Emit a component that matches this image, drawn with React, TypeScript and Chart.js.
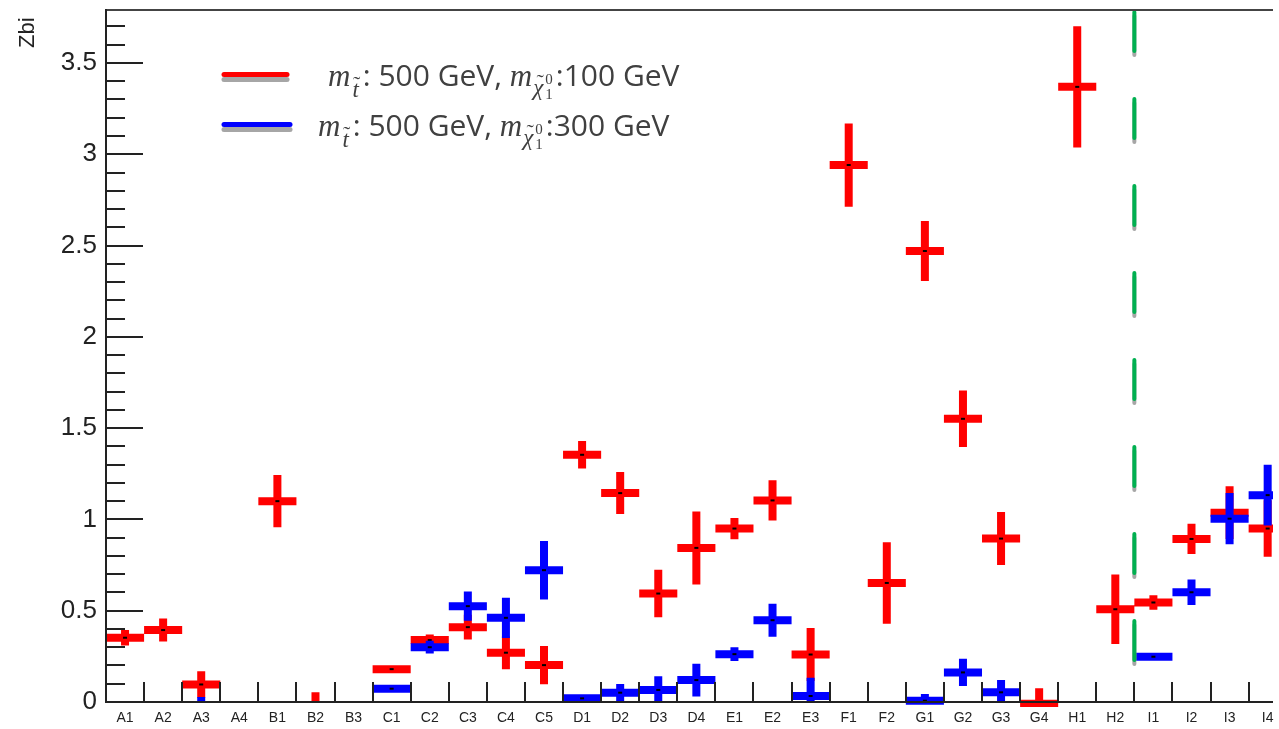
import React, { useEffect, useRef } from "react";
import { Chart, registerables } from "chart.js";

Chart.register(...registerables);

// ---------------- data ----------------
const CATEGORIES = [
  "A1", "A2", "A3", "A4", "B1", "B2", "B3", "C1", "C2", "C3", "C4", "C5",
  "D1", "D2", "D3", "D4", "E1", "E2", "E3", "F1", "F2", "G1", "G2", "G3",
  "G4", "H1", "H2", "I1", "I2", "I3", "I4",
];

const RED_VALUES = [
  0.352, 0.394, 0.096, null, 1.1, -0.07, null, 0.18, 0.339, 0.41, 0.27, 0.202,
  1.354, 1.144, 0.594, 0.844, 0.95, 1.104, 0.26, 2.941, 0.652, 2.47, 1.551, 0.895,
  -0.01, 3.369, 0.508, 0.545, 0.893, 1.037, 0.95,
];
const RED_ERRORS = [
  0.042, 0.063, 0.073, null, 0.143, 0.124, null, 0.012, 0.031, 0.068, 0.09, 0.105,
  0.075, 0.115, 0.13, 0.2, 0.058, 0.11, 0.145, 0.228, 0.223, 0.164, 0.155, 0.145,
  0.085, 0.332, 0.19, 0.04, 0.083, 0.144, 0.155,
];

const BLUE_VALUES = [
  null, null, -0.05, null, null, null, null, 0.073, 0.3, 0.525, 0.461, 0.722,
  0.02, 0.051, 0.066, 0.12, 0.262, 0.448, 0.033, null, null, 0.007, 0.162, 0.053,
  null, null, null, 0.248, 0.601, 1.004, 1.133,
];
const BLUE_ERRORS = [
  null, null, 0.078, null, null, null, null, 0.01, 0.035, 0.08, 0.11, 0.16,
  0.015, 0.047, 0.075, 0.09, 0.038, 0.09, 0.1, null, null, 0.037, 0.075, 0.067,
  null, null, null, 0.018, 0.07, 0.14, 0.167,
];

const Y_TICKS = [0, 0.5, 1, 1.5, 2, 2.5, 3, 3.5];
const Y_MAX = 3.79;
const X_MIN = -0.5;
const X_MAX = 30.14;
const Y_TITLE = "Zbi";
const STOP_MASSES = ["500 GeV", "500 GeV"];
const LSP_MASSES = ["100 GeV", "300 GeV"];
const DIVIDER_X = 26.5;
const DIVIDER_Y_FROM = 0.222;

// ---------------- styles ----------------
const RED = "#ff0000";
const BLUE = "#0000ff";
const GREEN = "#00b050";
const SHADOW = "#a6a6a6";
const AXIS = "#222222";
const TEXT_GRAY = "#404040";
const SANS = "'Liberation Sans', Arial, sans-serif";
const SERIF = "'Liberation Serif', 'Times New Roman', serif";
const LEGEND_SANS = "'Open Sans', 'Noto Sans', sans-serif";

const toPoints = (values: (number | null)[], errors: (number | null)[]) =>
  values
    .map((v, i) => (v == null ? null : { x: i, y: v, e: errors[i] ?? 0 }))
    .filter((p) => p !== null) as { x: number; y: number; e: number }[];

const crossPlugin = {
  id: "crosses",
  beforeDatasetDraw(chart: any, args: any) {
    const ds = chart.data.datasets[args.index];
    const { ctx, chartArea } = chart;
    const xs = chart.scales.x;
    const ys = chart.scales.y;
    const w = chartArea.right - chartArea.left;
    const pts = ds.data.map((p: any) => ({
      cx: xs.getPixelForValue(p.x),
      x0: xs.getPixelForValue(p.x - 0.5),
      x1: xs.getPixelForValue(p.x + 0.5),
      cy: ys.getPixelForValue(p.y),
      y0: ys.getPixelForValue(p.y - p.e),
      y1: ys.getPixelForValue(p.y + p.e),
    }));
    ctx.save();
    ctx.strokeStyle = ds.crossColor;
    ctx.lineWidth = 8;
    ctx.lineCap = "butt";
    // vertical error bars: clipped at the frame
    ctx.save();
    ctx.beginPath();
    ctx.rect(chartArea.left, chartArea.top, w, chartArea.bottom - chartArea.top);
    ctx.clip();
    ctx.beginPath();
    for (const p of pts) {
      ctx.moveTo(p.cx, p.y0);
      ctx.lineTo(p.cx, p.y1);
    }
    ctx.stroke();
    ctx.restore();
    // horizontal bin-width bars: may overhang the x axis slightly
    ctx.save();
    ctx.beginPath();
    ctx.rect(chartArea.left, chartArea.top, w, chartArea.bottom - chartArea.top + 5);
    ctx.clip();
    ctx.beginPath();
    for (const p of pts) {
      ctx.moveTo(p.x0, p.cy);
      ctx.lineTo(p.x1, p.cy);
    }
    ctx.stroke();
    ctx.restore();
    ctx.restore();
  },
};

const framePlugin = {
  id: "frame",
  afterDatasetsDraw(chart: any) {
    const { ctx, chartArea } = chart;
    const xs = chart.scales.x;
    const ys = chart.scales.y;
    const { left, right, top, bottom } = chartArea;
    ctx.save();

    // green dashed divider with grey shadow
    const dx = xs.getPixelForValue(DIVIDER_X);
    const dyTop = ys.getPixelForValue(Y_MAX) + 2;
    const dyBot = ys.getPixelForValue(DIVIDER_Y_FROM);
    ctx.lineCap = "round";
    ctx.lineWidth = 4;
    ctx.setLineDash([39, 48]);
    ctx.strokeStyle = SHADOW;
    ctx.beginPath();
    ctx.moveTo(dx, dyTop + 4);
    ctx.lineTo(dx, dyBot + 4);
    ctx.stroke();
    ctx.strokeStyle = GREEN;
    ctx.beginPath();
    ctx.moveTo(dx, dyTop);
    ctx.lineTo(dx, dyBot);
    ctx.stroke();
    ctx.setLineDash([]);
    ctx.lineCap = "butt";

    // frame lines
    ctx.lineWidth = 2;
    ctx.strokeStyle = "#444444";
    ctx.beginPath();
    ctx.moveTo(left, top);
    ctx.lineTo(right, top);
    ctx.stroke();
    ctx.strokeStyle = AXIS;
    ctx.beginPath();
    ctx.moveTo(left, top - 1);
    ctx.lineTo(left, bottom + 1);
    ctx.moveTo(left - 1, bottom);
    ctx.lineTo(right, bottom);
    ctx.stroke();

    // y ticks (major every 0.5, minor every 0.1)
    ctx.lineWidth = 2;
    const nMinor = Math.floor(Y_MAX * 10 + 1e-6);
    ctx.beginPath();
    for (let k = 1; k <= nMinor; k++) {
      const py = Math.round(ys.getPixelForValue(k / 10));
      const len = k % 5 === 0 ? 37 : 19;
      ctx.moveTo(left, py);
      ctx.lineTo(left + len, py);
    }
    // x ticks at bin edges
    for (let i = 0; i < CATEGORIES.length; i++) {
      const v = i + 0.5;
      if (v >= X_MAX) break;
      const px = Math.round(xs.getPixelForValue(v));
      ctx.moveTo(px, bottom);
      ctx.lineTo(px, bottom - 20);
    }
    ctx.stroke();
    ctx.restore();
  },
};

function drawTildeOver(ctx: any, cx: number, baseline: number, font: string) {
  ctx.save();
  ctx.font = font;
  ctx.textAlign = "center";
  ctx.fillText("\u02DC", cx, baseline);
  ctx.restore();
}

function drawLegendLabel(ctx: any, x: number, base: number, stop: string, lsp: string) {
  const mFont = `italic 31px ${SERIF}`;
  const subFont = `italic 23px ${SERIF}`;
  const tildeFont = `22px ${SERIF}`;
  const tinyFont = `15px ${SERIF}`;
  const textFont = `30px ${LEGEND_SANS}`;
  ctx.fillStyle = TEXT_GRAY;
  ctx.textAlign = "left";
  ctx.textBaseline = "alphabetic";
  let cx = x;

  // m_t~
  ctx.font = mFont;
  ctx.fillText("m", cx, base);
  cx += ctx.measureText("m").width + 1;
  ctx.font = subFont;
  const tw = ctx.measureText("t").width;
  ctx.fillText("t", cx + 1, base + 11);
  drawTildeOver(ctx, cx + tw / 2 + 2, base + 5, tildeFont);
  cx += tw + 5;

  ctx.font = textFont;
  const s1 = ": " + stop + ", ";
  ctx.fillText(s1, cx, base);
  cx += ctx.measureText(s1).width;

  // m_chi~_1^0
  ctx.font = mFont;
  ctx.fillText("m", cx, base);
  cx += ctx.measureText("m").width + 1;
  ctx.font = subFont;
  const cw = ctx.measureText("\u03C7").width;
  ctx.fillText("\u03C7", cx, base + 9);
  drawTildeOver(ctx, cx + cw / 2 + 2, base + 3, tildeFont);
  cx += cw + 2;
  ctx.font = tinyFont;
  ctx.fillText("0", cx, base - 2);
  ctx.fillText("1", cx, base + 13);
  cx += ctx.measureText("0").width + 3;

  ctx.font = textFont;
  ctx.fillText(":" + lsp, cx, base);
}

const legendPlugin = {
  id: "customLegend",
  afterDraw(chart: any) {
    const { ctx } = chart;
    ctx.save();
    // y title
    ctx.fillStyle = AXIS;
    ctx.font = `22px ${SANS}`;
    ctx.translate(34, 48);
    ctx.rotate(-Math.PI / 2);
    ctx.textAlign = "left";
    ctx.textBaseline = "alphabetic";
    ctx.fillText(Y_TITLE, 0, 0);
    ctx.restore();

    const rows = [
      { color: RED, y: 74.5, x0: 224, x1: 287, tx: 328, base: 86 },
      { color: BLUE, y: 124.5, x0: 224, x1: 290, tx: 318, base: 136 },
    ];
    ctx.save();
    ctx.lineCap = "round";
    ctx.lineWidth = 5;
    rows.forEach((r, i) => {
      ctx.strokeStyle = SHADOW;
      ctx.beginPath();
      ctx.moveTo(r.x0, r.y + 5);
      ctx.lineTo(r.x1, r.y + 5);
      ctx.stroke();
      ctx.strokeStyle = r.color;
      ctx.beginPath();
      ctx.moveTo(r.x0, r.y);
      ctx.lineTo(r.x1, r.y);
      ctx.stroke();
      drawLegendLabel(ctx, r.tx, r.base, STOP_MASSES[i], LSP_MASSES[i]);
    });
    ctx.restore();
  },
};

export default function App() {
  const canvasRef = useRef<HTMLCanvasElement | null>(null);

  useEffect(() => {
    const canvas = canvasRef.current;
    if (!canvas) return;
    const pointOpts = {
      showLine: false,
      pointStyle: "line",
      pointRadius: 2,
      pointBorderWidth: 2,
      pointBorderColor: "#000000",
      pointBackgroundColor: "#000000",
      clip: 0,
    };
    const chart = new Chart(canvas, {
      type: "scatter",
      data: {
        datasets: [
          {
            label: "m_t~: 500 GeV, m_chi~10:100 GeV",
            data: toPoints(RED_VALUES, RED_ERRORS),
            order: 2,
            crossColor: RED,
            ...pointOpts,
          } as any,
          {
            label: "m_t~: 500 GeV, m_chi~10:300 GeV",
            data: toPoints(BLUE_VALUES, BLUE_ERRORS),
            order: 1,
            crossColor: BLUE,
            ...pointOpts,
          } as any,
        ],
      },
      options: {
        animation: false,
        responsive: false,
        devicePixelRatio: 1,
        events: [],
        layout: { padding: { top: 10, right: 0, left: 0, bottom: 0 } },
        plugins: {
          legend: { display: false },
          tooltip: { enabled: false },
          title: { display: false },
        },
        scales: {
          x: {
            type: "linear",
            min: X_MIN,
            max: X_MAX,
            grid: { display: false, drawTicks: false },
            border: { display: false },
            afterBuildTicks: (s: any) => {
              s.ticks = CATEGORIES.map((_, i) => ({ value: i }));
            },
            afterFit: (s: any) => {
              s.height = 27;
              s.paddingLeft = 0;
              s.paddingRight = 0;
            },
            ticks: {
              autoSkip: false,
              maxRotation: 0,
              minRotation: 0,
              padding: 8,
              color: AXIS,
              font: { size: 14, family: SANS },
              callback: (v: any) => CATEGORIES[v] ?? "",
            },
          },
          y: {
            type: "linear",
            min: 0,
            max: Y_MAX,
            grid: { display: false, drawTicks: false },
            border: { display: false },
            afterBuildTicks: (s: any) => {
              s.ticks = Y_TICKS.map((v) => ({ value: v }));
            },
            afterFit: (s: any) => {
              s.width = 106;
              s.paddingTop = 0;
              s.paddingBottom = 0;
            },
            ticks: {
              padding: 9,
              color: AXIS,
              font: { size: 26, family: SANS },
              callback: (v: any) => String(v),
            },
          },
        },
      } as any,
      plugins: [crossPlugin, framePlugin, legendPlugin],
    });
    return () => chart.destroy();
  }, []);

  return (
    <div
      style={{
        position: "fixed",
        left: 0,
        top: 0,
        width: 1279,
        height: 729,
        background: "#ffffff",
        overflow: "hidden",
      }}
    >
      <canvas ref={canvasRef} width={1279} height={729} style={{ width: 1279, height: 729 }} />
    </div>
  );
}
